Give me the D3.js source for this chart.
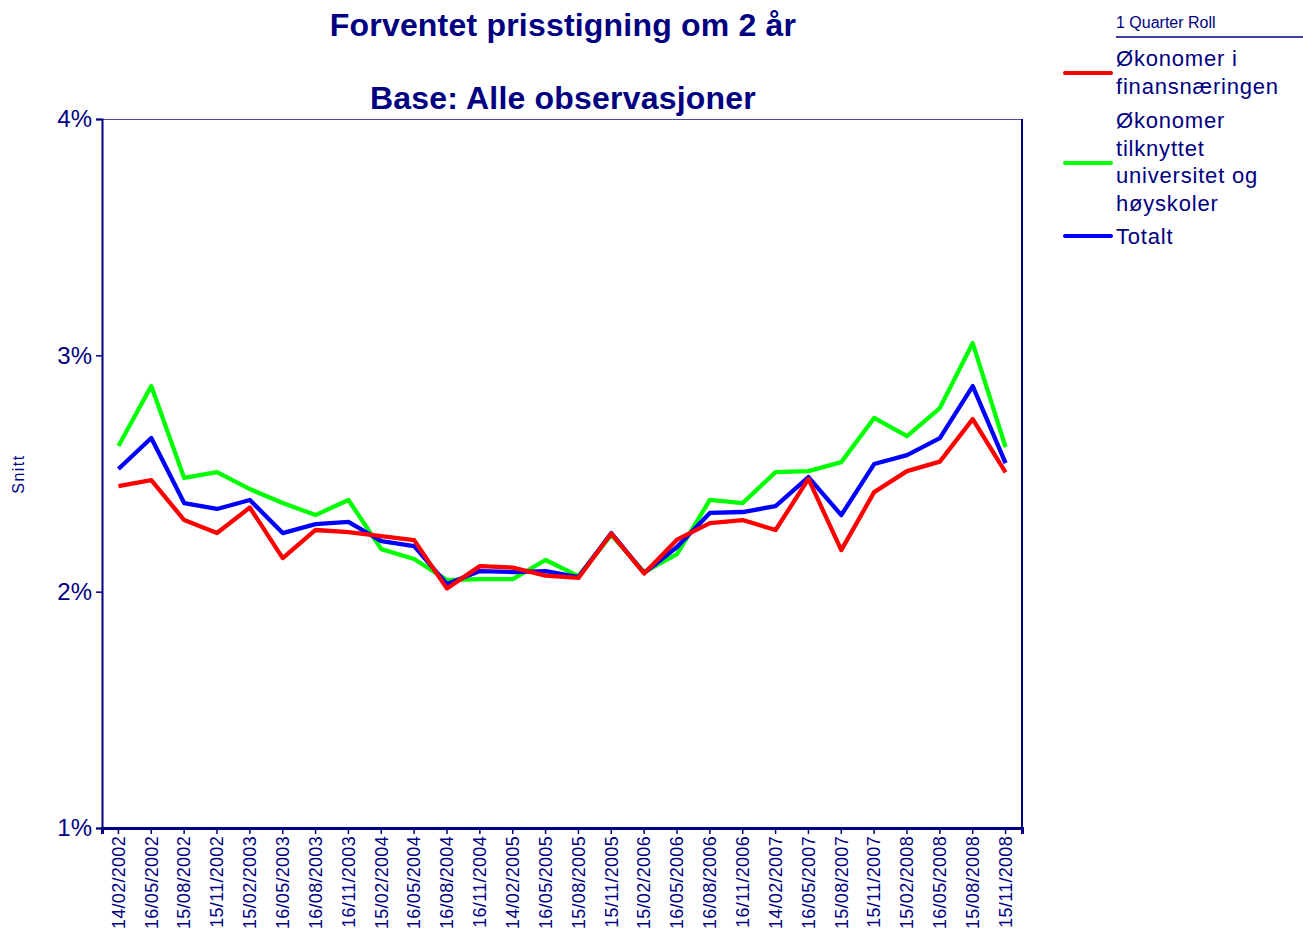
<!DOCTYPE html>
<html><head><meta charset="utf-8">
<script src="https://cdn.jsdelivr.net/npm/d3@7"></script>
<style>body{margin:0;background:#fff}svg{display:block}text{font-family:"Liberation Sans",Arial,sans-serif}</style>
</head><body>
<script>
const categories = ["14/02/2002","16/05/2002","15/08/2002","15/11/2002","15/02/2003","16/05/2003","16/08/2003","16/11/2003","15/02/2004","16/05/2004","16/08/2004","16/11/2004","14/02/2005","16/05/2005","15/08/2005","15/11/2005","15/02/2006","16/05/2006","16/08/2006","16/11/2006","14/02/2007","16/05/2007","15/08/2007","15/11/2007","15/02/2008","16/05/2008","15/08/2008","15/11/2008"];
const finans = [2.447,2.472,2.303,2.248,2.356,2.142,2.261,2.252,2.235,2.218,2.013,2.108,2.102,2.068,2.058,2.246,2.077,2.220,2.290,2.303,2.261,2.477,2.176,2.421,2.510,2.550,2.730,2.505];
const univ = [2.616,2.870,2.481,2.506,2.434,2.375,2.324,2.388,2.180,2.138,2.049,2.053,2.053,2.134,2.066,2.240,2.083,2.159,2.388,2.375,2.506,2.510,2.548,2.735,2.658,2.777,3.052,2.612];
const totalt = [2.519,2.650,2.375,2.350,2.388,2.248,2.286,2.295,2.214,2.193,2.032,2.087,2.083,2.087,2.062,2.248,2.079,2.189,2.333,2.337,2.362,2.485,2.324,2.540,2.578,2.650,2.870,2.544];
const seriesNames = ["Økonomer i finansnæringen","Økonomer tilknyttet universitet og høyskoler","Totalt"];
const legendLines = [["Økonomer i","finansnæringen"],["Økonomer","tilknyttet","universitet og","høyskoler"],["Totalt"]];
const seriesColors = ["#ff0000","#00ff00","#0000ff"];
const yTicks = [1,2,3,4];
const titleLines = ["Forventet prisstigning om 2 år","Base: Alle observasjoner"];
const legendTitle = "1 Quarter Roll";
const yLabel = "Snitt";

const W=1303,H=931, navy="#000080";
const m={l:102,r:1022,t:119,b:828};
const svg=d3.select("body").append("svg").attr("width",W).attr("height",H);
const x=d3.scaleBand().domain(categories).range([m.l,m.r]);
const y=d3.scaleLinear().domain([1,4]).range([m.b,m.t]);

// frame
svg.append("line").attr("x1",m.l).attr("x2",m.r).attr("y1",m.t+0.5).attr("y2",m.t+0.5).attr("stroke",navy).attr("stroke-opacity",0.7).attr("stroke-width",1);
svg.append("line").attr("x1",m.r).attr("x2",m.r).attr("y1",m.t).attr("y2",m.b).attr("stroke",navy).attr("stroke-width",2);

// titles
svg.selectAll(".title").data(titleLines).join("text").attr("x",563).attr("y",(d,i)=>36+i*73)
  .attr("text-anchor","middle").attr("font-size",32).attr("letter-spacing","0.2px").attr("font-weight","bold").attr("fill",navy).text(d=>d);

// y axis
const ya=svg.append("g").attr("transform",`translate(${m.l},0)`).call(d3.axisLeft(y).tickValues(yTicks).tickFormat(d=>d+"%").tickSize(6).tickPadding(4));
ya.select(".domain").attr("stroke",navy).attr("stroke-width",2);
ya.selectAll(".tick line").attr("stroke",navy).attr("stroke-width",1.5);
ya.selectAll(".tick text").attr("fill",navy).attr("font-size",24).attr("font-family","Liberation Sans, Arial, sans-serif");

// x axis
const xa=svg.append("g").attr("transform",`translate(0,${m.b})`).call(d3.axisBottom(x).tickSize(6).tickPadding(2));
xa.select(".domain").attr("stroke",navy).attr("stroke-width",3);
xa.selectAll(".tick line").attr("stroke",navy).attr("stroke-width",1.5);
xa.selectAll(".tick text").attr("fill",navy).attr("font-size",18).attr("letter-spacing","0.3px").attr("font-family","Liberation Sans, Arial, sans-serif")
  .attr("transform","rotate(-90)").attr("text-anchor","end").attr("dy","0.35em").attr("x",-8).attr("y",0);

// y label
svg.append("text").attr("transform","translate(24,474) rotate(-90)").attr("text-anchor","middle").attr("font-size",16).attr("letter-spacing","1.5px").attr("fill",navy).text(yLabel);

// lines
const allSeries=[finans,univ,totalt];
const line=d3.line().x((d,i)=>x(categories[i])+x.bandwidth()/2).y(d=>y(d));
[1,2,0].forEach(k=>{
  svg.append("path").datum(allSeries[k]).attr("d",line).attr("fill","none").attr("stroke",seriesColors[k]).attr("stroke-width",4.3).attr("stroke-linejoin","round");
});

// legend
const lg=svg.append("g");
lg.append("text").attr("x",1116).attr("y",28).attr("font-size",16).attr("fill",navy).text(legendTitle);
lg.append("line").attr("x1",1116).attr("x2",1303).attr("y1",37).attr("y2",37).attr("stroke",navy).attr("stroke-width",1.5);
const itemTop=[66,128,244];
const swY=[73,163,236];
legendLines.forEach((ls,i)=>{
  lg.append("line").attr("x1",1065).attr("x2",1111).attr("y1",swY[i]).attr("y2",swY[i]).attr("stroke",seriesColors[i]).attr("stroke-width",4).attr("stroke-linecap","round");
  ls.forEach((t,j)=>lg.append("text").attr("x",1116).attr("y",itemTop[i]+j*27.5).attr("font-size",22).attr("letter-spacing","0.8px").attr("fill",navy).text(t));
});
</script>
</body></html>
